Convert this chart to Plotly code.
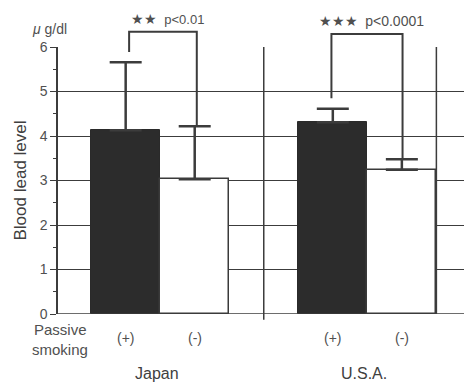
import plotly.graph_objects as go

countries = ["Japan", "U.S.A."]
smoking_labels = ["(+)", "(-)"]
means_pos = [4.13, 4.31]      # passive smoking (+)
means_neg = [3.03, 3.24]      # passive smoking (-)
err_pos = [1.53, 0.30]
err_neg = [1.19, 0.24]
sig_stars = ["\u2605\u2605", "\u2605\u2605\u2605"]
sig_p = ["p<0.01", "p<0.0001"]
y_ticks = [0, 1, 2, 3, 4, 5, 6]

FONT = "Liberation Sans, Arial, sans-serif"
LINE = "#3c3c3c"
TXT = "#505050"

x_pos = [0, 3]
x_neg = [1, 4]

fig = go.Figure()
fig.add_trace(go.Bar(
    x=x_pos, y=means_pos, width=1.0,
    marker=dict(color="#2c2c2c", line=dict(color="#2a2a2a", width=1)),
    error_y=dict(type="data", array=err_pos, arrayminus=[0, 0], symmetric=False,
                 color=LINE, thickness=2.5, width=16),
    showlegend=False,
))
fig.add_trace(go.Bar(
    x=x_neg, y=means_neg, width=1.0,
    marker=dict(color="white", line=dict(color="#3a3a3a", width=1.5)),
    error_y=dict(type="data", array=err_neg, arrayminus=[0, 0], symmetric=False,
                 color=LINE, thickness=2.5, width=16),
    showlegend=False,
))

shapes = []
# vertical grid lines
for xv, y0 in [(2, -0.022), (4.5, 0)]:
    shapes.append(dict(type="line", xref="x", yref="paper", x0=xv, x1=xv, y0=y0, y1=1,
                       line=dict(color=LINE, width=1.5), layer="below"))
# baseline
shapes.append(dict(type="line", xref="paper", yref="y", x0=0, x1=1, y0=0, y1=0,
                   line=dict(color=LINE, width=1.5)))

# significance brackets
ymax = 6.0
bracket = [
    (x_pos[0] + 0.05, x_neg[0] + 0.03, means_pos[0] + err_pos[0] + 0.23, means_neg[0] + err_neg[0], 6.34),
    (x_pos[1] - 0.02, x_neg[1] + 0.01, means_pos[1] + err_pos[1] + 0.24, means_neg[1] + err_neg[1], 6.29),
]
for xl, xr, yl, yr, top in bracket:
    path = f"M {xl},{yl/ymax} L {xl},{top/ymax} L {xr},{top/ymax} L {xr},{yr/ymax}"
    shapes.append(dict(type="path", xref="x", yref="paper", path=path,
                       line=dict(color=LINE, width=2)))

annotations = []
p_sizes = [13, 14]
for i in range(2):
    xc = (bracket[i][0] + bracket[i][1]) / 2 + 0.07
    text = (f"<span style='font-size:14px'>{sig_stars[i]}</span>"
            f"&nbsp;&nbsp;<span style='font-size:{p_sizes[i]}px'>{sig_p[i]}</span>")
    annotations.append(dict(x=xc, y=bracket[i][4] / ymax, xref="x", yref="paper",
                            text=text, showarrow=False, yanchor="bottom", yshift=3,
                            font=dict(family=FONT, size=13, color=TXT)))
for i in range(2):
    annotations.append(dict(x=x_pos[i], y=0, xref="x", yref="paper", text=smoking_labels[0],
                            showarrow=False, yanchor="middle", yshift=-24,
                            font=dict(family=FONT, size=14, color=TXT)))
    annotations.append(dict(x=x_neg[i], y=0, xref="x", yref="paper", text=smoking_labels[1],
                            showarrow=False, yanchor="middle", yshift=-24,
                            font=dict(family=FONT, size=14, color=TXT)))
    annotations.append(dict(x=(x_pos[i] + x_neg[i]) / 2 - 0.05, y=0, xref="x", yref="paper",
                            text=countries[i], showarrow=False, yanchor="middle", yshift=-59,
                            font=dict(family=FONT, size=16, color="#404040")))
annotations.append(dict(x=0.005, y=0, xref="paper", yref="paper", text="Passive",
                        showarrow=False, xanchor="center", yanchor="middle", yshift=-15,
                        font=dict(family=FONT, size=15, color=TXT)))
annotations.append(dict(x=0.005, y=0, xref="paper", yref="paper", text="smoking",
                        showarrow=False, xanchor="center", yanchor="middle", yshift=-35,
                        font=dict(family=FONT, size=15, color=TXT)))
annotations.append(dict(x=-0.022, y=1, xref="paper", yref="paper", text="<i>\u03bc</i> g/dl",
                        showarrow=False, xanchor="center", yanchor="middle", yshift=18,
                        font=dict(family=FONT, size=14, color=TXT)))

fig.update_layout(
    width=466, height=385,
    margin=dict(l=58, r=2, t=47, b=71),
    paper_bgcolor="white", plot_bgcolor="white",
    bargap=0, barmode="overlay",
    shapes=shapes, annotations=annotations,
    font=dict(family=FONT, color=TXT),
    xaxis=dict(range=[-0.98, 4.9], showticklabels=False, showgrid=False, zeroline=False,
               showline=False, ticks="", automargin=False),
    yaxis=dict(range=[0, 6], tickvals=y_ticks, showgrid=True, gridcolor=LINE, gridwidth=1.3,
               zeroline=False, showline=True, linecolor=LINE, linewidth=1.5,
               ticks="outside", ticklen=6, tickcolor=LINE, tickwidth=1.3, automargin=False,
               minor=dict(dtick=0.5, tick0=0, ticks="outside", ticklen=3, tickcolor=LINE, showgrid=False),
               tickfont=dict(family=FONT, size=14, color=TXT),
               title=dict(text="Blood lead level", font=dict(family=FONT, size=17, color="#404040"),
                          standoff=9)),
)

fig.write_html("out.html", config={"displayModeBar": False},
               post_script="document.body.style.margin='0';")
